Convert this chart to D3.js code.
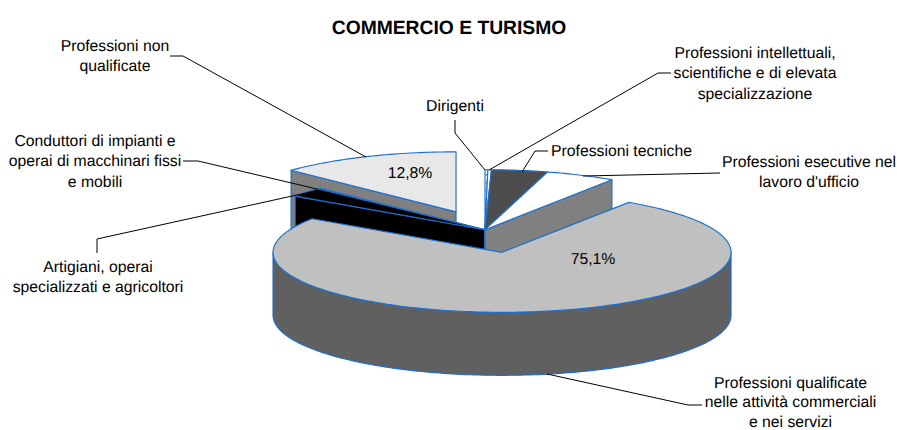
<!DOCTYPE html>
<html><head><meta charset="utf-8">
<script src="https://cdn.jsdelivr.net/npm/d3@7"></script>
<style>html,body{margin:0;padding:0;background:#fff}svg{display:block}text{font-family:"Liberation Sans",Arial,sans-serif;fill:#000;text-rendering:geometricPrecision}</style>
</head><body><div id="c"></div>
<script>
const categories = ["Dirigenti","Professioni intellettuali","Professioni tecniche","Professioni esecutive","Professioni qualificate","Artigiani","Conduttori","Professioni non qualificate"];
const values = [0.2,0.25,3.95,4.95,75.1,2.5,0.25,12.8];
const valueLabels = [null,null,null,null,"75,1%",null,null,"12,8%"];
const topColors = ["url(#dots)","#ffffff","#4d4d4d","#ffffff","#c0c0c0","#000000","#ffffff","#e8e8e8"];
const sideColors = ["#808080","#808080","#262626","#808080","#606060","#000000","#808080","#808080"];
const explosion = [0,0,0,0,88,0,0,74];
const drawOrder = [7,6,5,0,1,2,3,4];
const title = "COMMERCIO E TURISMO";

const W=897,H=430,cx=485,cy=229.7,rx=229,ry=60,depth=63,ratio=ry/rx,blue="#1a6fd0";
const svg=d3.select("#c").append("svg").attr("width",W).attr("height",H);
const pat=svg.append("defs").append("pattern").attr("id","dots").attr("patternUnits","userSpaceOnUse")
  .attr("x",484).attr("y",171).attr("width",8).attr("height",8);
pat.append("rect").attr("width",8).attr("height",8).attr("fill","#fff");
pat.append("rect").attr("x",1.5).attr("y",3).attr("width",1.4).attr("height",1.6).attr("fill","#777");

const arcs=d3.pie().sort(null).startAngle(0).endAngle(2*Math.PI).value(d=>d)(values);
const line=d3.line();
const pieG=svg.append("g");
function pt(c,t,dz=0){return [c[0]+rx*Math.sin(t),c[1]-ry*Math.cos(t)+dz];}
function arcPts(c,a,b,dz=0){
  const n=Math.max(2,Math.ceil((b-a)/0.02));
  return d3.range(n+1).map(i=>pt(c,a+(b-a)*i/n,dz));
}
function draw(pts,fill){
  pieG.append("path").attr("d",line(pts)+"Z").attr("fill",fill).attr("stroke",blue).attr("stroke-width",1.15).attr("stroke-linejoin","round");
}
const PI=Math.PI;
drawOrder.forEach(i=>{
  const s=arcs[i],a=s.startAngle,b=s.endAngle,m=(a+b)/2,e=explosion[i];
  const c=[cx+e*Math.sin(m),cy-e*ratio*Math.cos(m)];
  const bot=[c[0],c[1]+depth];
  // cut faces that look at the viewer
  if(a>PI&&a<2*PI) draw([c,pt(c,a),pt(c,a,depth),bot],sideColors[i]);
  if(b>0&&b<PI) draw([c,pt(c,b),pt(c,b,depth),bot],sideColors[i]);
  // outer rim on the near half
  const r0=Math.max(a,PI/2),r1=Math.min(b,PI*1.5);
  if(r1>r0) draw([...arcPts(c,r0,r1),...arcPts(c,r0,r1,depth).reverse()],sideColors[i]);
  draw([c,...arcPts(c,a,b)],topColors[i]);
});
const valuePos={4:[593,258],7:[410,172]};
valueLabels.forEach((t,i)=>{ if(t) svg.append("text").attr("x",valuePos[i][0]).attr("y",valuePos[i][1]).attr("dy","0.35em").attr("text-anchor","middle").attr("font-size",15.75).text(t); });

svg.append("text").attr("x",449).attr("y",34).attr("text-anchor","middle").attr("font-size",19.3).attr("font-weight","bold").text(title);

const labelLayout=[
 {lines:["Professioni non","qualificate"],x:115,y:45,a:"middle",step:20.7,lead:[[170,56],[183,56],[366,157]]},
 {lines:["Conduttori di impianti e","operai di macchinari fissi","e mobili"],x:95,y:140,a:"middle",step:20.7,lead:[[183,161],[198,161],[317,189]]},
 {lines:["Artigiani, operai","specializzati e agricoltori"],x:98,y:266,a:"middle",step:20.7,lead:[[97,253],[97,239],[315,191]]},
 {lines:["Dirigenti"],x:455,y:105,a:"middle",step:20.7,lead:[[455,120],[455,133],[485,170]]},
 {lines:["Professioni intellettuali,","scientifiche e di elevata","specializzazione"],x:755,y:52,a:"middle",step:20.7,lead:[[671,73],[658,73],[489,170]]},
 {lines:["Professioni tecniche"],x:551,y:150,a:"start",step:20.7,lead:[[548,151],[535,151],[522,172]]},
 {lines:["Professioni esecutive nel","lavoro d'ufficio"],x:809,y:161,a:"middle",step:20.7,lead:[[720,173],[583,176]]},
 {lines:["Professioni qualificate","nelle attività commerciali","e nei servizi"],x:790.5,y:382.5,a:"middle",step:19.4,lead:[[547,374],[688,405],[702,405]]}
];
labelLayout.forEach(l=>{
  svg.append("path").attr("d",line(l.lead)).attr("fill","none").attr("stroke","#000").attr("stroke-width",1);
  l.lines.forEach((t,k)=>svg.append("text").attr("x",l.x).attr("y",l.y+k*l.step).attr("dy","0.35em").attr("text-anchor",l.a).attr("font-size",15.75).text(t));
});
</script></body></html>
